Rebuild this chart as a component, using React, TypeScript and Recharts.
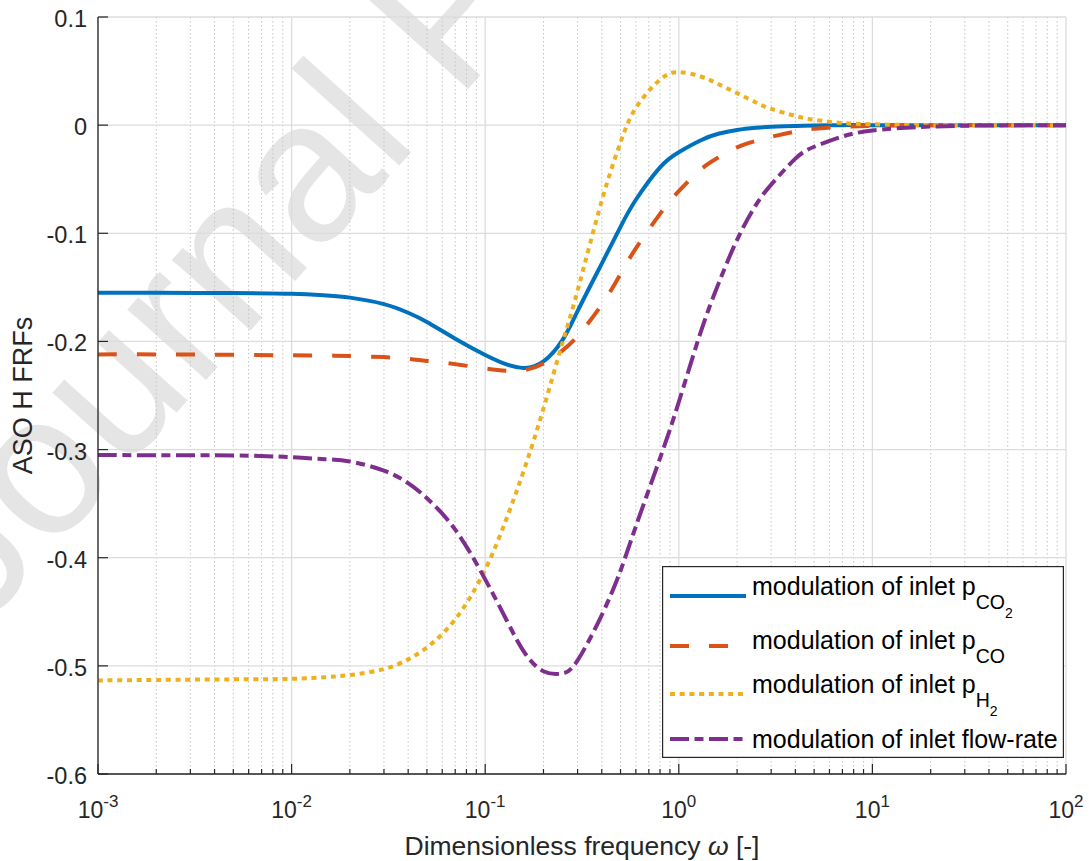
import React from 'react';
import { LineChart, Line, XAxis, YAxis, CartesianGrid, Legend } from 'recharts';

// dimensionless frequency (log axis) and the four FRF curves
const OMEGA = [0.001, 0.002, 0.005, 0.01, 0.015, 0.02, 0.03, 0.04, 0.05, 0.07, 0.1, 0.13, 0.16, 0.2, 0.25, 0.3, 0.4, 0.5, 0.6, 0.8, 1, 1.3, 1.6, 2, 2.5, 3, 4, 5, 7, 10, 20, 50, 100];
const H_CO2 = [-0.155, -0.155, -0.1553, -0.156, -0.1575, -0.1595, -0.1655, -0.1735, -0.182, -0.1975, -0.2125, -0.2215, -0.2245, -0.2185, -0.199, -0.172, -0.128, -0.094, -0.069, -0.039, -0.025, -0.014, -0.008, -0.0045, -0.0025, -0.0015, -0.0007, -0.0003, 0, 0, 0, 0, 0];
const H_CO = [-0.212, -0.212, -0.2124, -0.2128, -0.213, -0.2135, -0.2145, -0.216, -0.218, -0.221, -0.225, -0.2272, -0.2265, -0.2205, -0.2085, -0.195, -0.166, -0.1376, -0.114, -0.082, -0.061, -0.041, -0.03, -0.0205, -0.0145, -0.0108, -0.006, -0.0033, -0.0015, -0.0007, 0, 0, 0];
const H_H2 = [-0.5135, -0.513, -0.5125, -0.512, -0.5105, -0.5085, -0.503, -0.494, -0.483, -0.457, -0.411, -0.362, -0.317, -0.262, -0.202, -0.153, -0.07, -0.016, 0.016, 0.042, 0.049, 0.045, 0.038, 0.0296, 0.021, 0.015, 0.0085, 0.005, 0.002, 0.0008, 0, 0, 0];
const H_FLOW = [-0.305, -0.3052, -0.3055, -0.307, -0.309, -0.311, -0.3195, -0.331, -0.345, -0.374, -0.42, -0.459, -0.488, -0.505, -0.507, -0.495, -0.453, -0.412, -0.371, -0.308, -0.256, -0.191, -0.147, -0.106, -0.074, -0.055, -0.031, -0.02, -0.0105, -0.005, -0.0013, -0.0002, 0];

const X_MAJOR = [0.001, 0.01, 0.1, 1, 10, 100];
const X_MINOR = [
  0.002, 0.003, 0.004, 0.005, 0.006, 0.007, 0.008, 0.009,
  0.02, 0.03, 0.04, 0.05, 0.06, 0.07, 0.08, 0.09,
  0.2, 0.3, 0.4, 0.5, 0.6, 0.7, 0.8, 0.9,
  2, 3, 4, 5, 6, 7, 8, 9,
  20, 30, 40, 50, 60, 70, 80, 90,
];
const Y_TICKS = [-0.6, -0.5, -0.4, -0.3, -0.2, -0.1, 0, 0.1];

const SERIES = [
  { key: 'co2', label: 'modulation of inlet p', sub: 'CO', subsub: '2', color: '#0072BD', dash: undefined as string | undefined },
  { key: 'co', label: 'modulation of inlet p', sub: 'CO', subsub: '', color: '#D95319', dash: '19 20' },
  { key: 'h2', label: 'modulation of inlet p', sub: 'H', subsub: '2', color: '#EDB120', dash: '5 4.7' },
  { key: 'flow', label: 'modulation of inlet flow-rate', sub: '', subsub: '', color: '#7E2F8E', dash: '19 5.5 9 5.5' },
];

const data = OMEGA.map((w, i) => ({ w, co2: H_CO2[i], co: H_CO[i], h2: H_H2[i], flow: H_FLOW[i] }));
const xTicks = [...X_MAJOR, ...X_MINOR].sort((a, b) => a - b);

const FONT = '"Liberation Sans", Arial, Helvetica, sans-serif';
const INK = '#262626';
const W = 1089;
const H = 861;

const isMajor = (v: number) => Math.abs(Math.log10(v) - Math.round(Math.log10(v))) < 1e-6;

const BottomTick = (props: any) => {
  const { x, y, payload } = props;
  const v = payload.value;
  const major = isMajor(v);
  const e = Math.round(Math.log10(v));
  return (
    <g>
      <line x1={x} x2={x} y1={y} y2={y - (major ? 10 : 5)} stroke={INK} strokeWidth={1.2} />
      {major && (
        <text x={x} y={y + 44} textAnchor="middle" fontFamily={FONT} fontSize={23} fill={INK}>
          10<tspan fontSize={17} dy={-11}>{String(e)}</tspan>
        </text>
      )}
    </g>
  );
};

const TopTick = (props: any) => {
  const { x, y, payload } = props;
  const major = isMajor(payload.value);
  return <line x1={x} x2={x} y1={y} y2={y + (major ? 10 : 5)} stroke={INK} strokeWidth={1.2} />;
};

const LeftTick = (props: any) => {
  const { x, y, payload } = props;
  return (
    <g>
      <line x1={x} x2={x + 10} y1={y} y2={y} stroke={INK} strokeWidth={1.2} />
      <text x={x - 11} y={y + 10} textAnchor="end" fontFamily={FONT} fontSize={23.5} fill={INK}>
        {String(payload.value)}
      </text>
    </g>
  );
};

const RightTick = (props: any) => {
  const { x, y } = props;
  return <line x1={x} x2={x - 10} y1={y} y2={y} stroke={INK} strokeWidth={1.2} />;
};

const XTitle = (props: any) => {
  const vb = props.viewBox || { x: 98, y: 774, width: 967 };
  return (
    <text x={vb.x + vb.width / 2} y={vb.y + 81} textAnchor="middle" fontFamily={FONT} fontSize={26.5} fill={INK}>
      Dimensionless frequency <tspan fontStyle="italic">ω</tspan> [-]
    </text>
  );
};

const YTitle = (props: any) => {
  const vb = props.viewBox || { x: 0, y: 17, height: 757 };
  const cx = 32;
  const cy = vb.y + vb.height / 2;
  return (
    <text x={cx} y={cy} transform={`rotate(-90, ${cx}, ${cy})`} textAnchor="middle" fontFamily={FONT} fontSize={27} fill={INK}>
      ASO H FRFs
    </text>
  );
};

const LEG_LINE_Y = [30, 80, 128, 173];
const LEG_TEXT_Y = [29, 83, 127, 182];

const LegendBox = () => (
  <svg width={402} height={192} style={{ display: 'block' }}>
    <rect x={0.6} y={0.6} width={400.8} height={190.8} fill="#fff" stroke={INK} strokeWidth={1.2} />
    {SERIES.map((s, i) => (
      <g key={s.key}>
        <line x1={8} x2={84} y1={LEG_LINE_Y[i]} y2={LEG_LINE_Y[i]} stroke={s.color} strokeWidth={4} strokeDasharray={s.dash} />
        <text x={90} y={LEG_TEXT_Y[i]} fontFamily={FONT} fontSize={25} fill="#000">
          {s.label}
          {s.sub && <tspan dy={14} fontSize={19.5}>{s.sub}</tspan>}
          {s.subsub && <tspan dy={9} fontSize={14}>{s.subsub}</tspan>}
        </text>
      </g>
    ))}
  </svg>
);

const Watermark = () => (
  <svg width={W} height={H} style={{ position: 'absolute', left: 0, top: 0 }}>
    <text x={-19} y={630} transform="rotate(-48, -19, 630)" fontFamily={FONT} fontSize={200} fill="#000" fillOpacity={0.1}>
      Journal Pre-proof
    </text>
  </svg>
);

export default function App() {
  return (
    <div style={{ position: 'absolute', left: 0, top: 0, width: W, height: H, background: '#fff', overflow: 'hidden' }}>
      <Watermark />
      <div style={{ position: 'absolute', left: 0, top: 0 }}>
        <LineChart width={W} height={H} data={data} margin={{ top: 17, right: 23, bottom: 0, left: 0 }}>
          <CartesianGrid horizontal={false} verticalValues={X_MINOR} stroke="#c4c4c4" strokeWidth={1} strokeDasharray="1.5 2.5" />
          <CartesianGrid verticalValues={X_MAJOR} horizontalValues={Y_TICKS} stroke="#dcdcdc" strokeWidth={1.3} />
          <XAxis
            dataKey="w"
            type="number"
            scale="log"
            domain={[0.001, 100]}
            allowDataOverflow
            ticks={xTicks}
            interval={0}
            height={87}
            tickSize={0}
            tickMargin={0}
            tickLine={false}
            axisLine={{ stroke: INK, strokeWidth: 1.3 }}
            tick={<BottomTick />}
            label={<XTitle />}
          />
          <XAxis
            xAxisId="top"
            orientation="top"
            dataKey="w"
            type="number"
            scale="log"
            domain={[0.001, 100]}
            allowDataOverflow
            ticks={xTicks}
            interval={0}
            height={0}
            tickSize={0}
            tickMargin={0}
            tickLine={false}
            axisLine={{ stroke: INK, strokeWidth: 1.3 }}
            tick={<TopTick />}
          />
          <YAxis
            type="number"
            domain={[-0.6, 0.1]}
            allowDataOverflow
            ticks={Y_TICKS}
            interval={0}
            width={98}
            tickSize={0}
            tickMargin={0}
            tickLine={false}
            axisLine={{ stroke: INK, strokeWidth: 1.3 }}
            tick={<LeftTick />}
            label={<YTitle />}
          />
          <YAxis
            yAxisId="right"
            orientation="right"
            type="number"
            domain={[-0.6, 0.1]}
            allowDataOverflow
            ticks={Y_TICKS}
            interval={0}
            width={0}
            tickSize={0}
            tickMargin={0}
            tickLine={false}
            axisLine={{ stroke: INK, strokeWidth: 1.3 }}
            tick={<RightTick />}
          />
          {SERIES.map((s) => (
            <Line
              key={s.key}
              dataKey={s.key}
              type="natural"
              stroke={s.color}
              strokeWidth={4}
              strokeDasharray={s.dash}
              dot={false}
              activeDot={false}
              isAnimationActive={false}
            />
          ))}
          <Legend
            layout="vertical"
            align="center"
            verticalAlign="middle"
            wrapperStyle={{ left: 662, top: 566, width: 402, height: 192 }}
            content={() => <LegendBox />}
          />
        </LineChart>
      </div>
    </div>
  );
}
